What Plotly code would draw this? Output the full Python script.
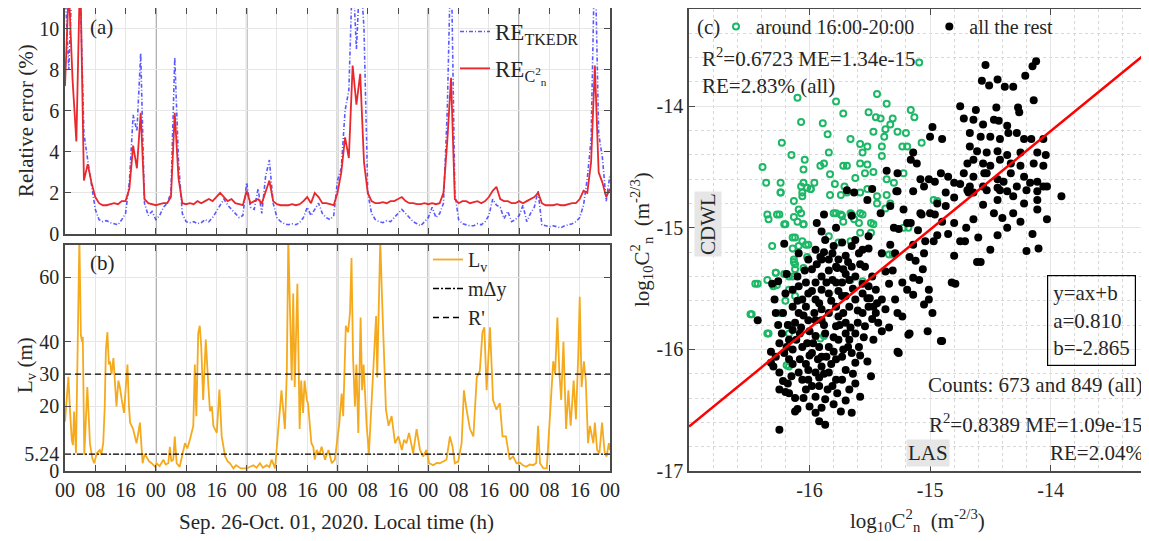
import plotly.graph_objects as go

# target picture is 1149x541; the html body has an 8px margin, so the figure is
# made 8px smaller and every pixel position is measured from the window corner
W, H = 1149, 541
OFF = 8
FW, FH = W - OFF, H - OFF

# ---------------- data ----------------
# hourly relative errors, Sep 26 00h .. Oct 02 00h (144 h)
hours = list(range(0, 145))
re_tkedr = [12, 8.0, 13, 13, 12, 4.9, 3.6, 2.4, 1.2, 0.7,
            0.6, 0.65, 0.55, 0.5, 0.45, 0.7, 1.0, 2.5, 5.8, 5.0,
            8.8, 1.5, 0.9, 1.1, 0.7, 0.9, 1.3, 1.5, 2.0, 8.6,
            3.5, 1.0, 0.6, 0.55, 0.6, 0.5, 0.55, 0.7, 0.6, 0.8,
            1.1, 1.4, 1.7, 1.4, 1.2, 1.0, 0.8, 0.9, 2.5, 1.3,
            1.2, 2.2, 1.0, 2.8, 3.6, 1.5, 0.8, 0.6, 0.5, 0.45,
            0.5, 0.45, 0.55, 0.8, 1.3, 0.9, 1.2, 1.5, 1.0, 0.8,
            0.7, 0.9, 2.6, 3.2, 6.0, 7.0, 13, 9.0, 13, 10,
            2.0, 1.0, 0.7, 0.6, 0.55, 0.65, 0.6, 0.8, 1.0, 1.2,
            1.0, 0.8, 0.6, 0.5, 0.4, 0.6, 0.8, 1.3, 0.8, 1.0,
            1.5, 6.0, 14, 2.0, 0.7, 0.5, 0.45, 0.4, 0.4, 0.5,
            0.45, 0.6, 0.9, 1.7, 1.4, 1.3, 0.75, 1.1, 0.6, 0.7,
            0.9, 1.4, 0.6, 1.0, 1.3, 2.1, 0.45, 0.4, 0.35, 0.4,
            0.35, 0.3, 0.4, 0.45, 0.5, 0.6, 0.8, 1.4, 2.7, 4.6,
            14, 4.9, 3.7, 1.6, 2.9]
re_cn2 = [7.2, 12, 7.5, 4.5, 13, 2.6, 3.4, 2.5, 1.8, 1.5,
          1.4, 1.4, 1.45, 1.5, 1.45, 1.6, 1.6, 2.2, 4.3, 3.2,
          5.9, 1.7, 1.5, 1.45, 1.4, 1.45, 1.5, 1.5, 1.8, 5.9,
          2.7, 1.5, 1.45, 1.5, 1.45, 1.6, 1.5, 1.6, 1.7, 1.6,
          1.8, 2.0, 1.8, 1.6, 1.7, 1.5, 1.45, 1.4, 2.1, 1.5,
          1.6, 1.7, 1.5, 2.0, 2.6, 1.6, 1.45, 1.4, 1.4, 1.4,
          1.45, 1.4, 1.45, 1.6, 1.8, 1.5, 2.0, 1.8, 1.5, 1.5,
          1.45, 1.4, 2.0, 3.0, 4.7, 3.7, 8.2, 6.3, 7.8, 3.5,
          2.0, 1.6, 1.5, 1.5, 1.55, 1.5, 1.6, 1.6, 1.7, 1.8,
          1.6, 1.5, 1.5, 1.45, 1.45, 1.5, 1.45, 1.5, 1.45, 1.5,
          2.0, 4.5, 7.6, 1.7, 1.5, 1.6, 1.6, 1.5, 1.55, 1.6,
          1.5, 1.6, 1.8, 2.1, 2.3, 1.7, 1.6, 1.6, 1.5, 1.5,
          1.6, 1.5, 1.6, 1.7, 1.8, 2.0, 1.5, 1.4, 1.4, 1.4,
          1.45, 1.4, 1.4, 1.45, 1.5, 1.5, 1.7, 2.1, 2.0, 3.5,
          8.2, 3.0, 2.5, 1.8, 2.2]

# L_v (m), (hour, value)
lv_points = [
    (0, 15.3), (0.5, 22), (0.9, 29.2), (1.3, 19), (1.8, 9.6), (2.1, 8), (2.4, 18.4), (2.9, 5.5),
    (3.4, 40), (3.8, 72), (4.2, 42), (4.5, 40), (4.7, 41.6), (5.1, 5), (5.9, 26), (6.6, 8.4),
    (7.2, 4), (7.7, 2.4), (8.4, 5.5), (9.2, 6.5), (9.6, 5), (10.1, 8.6), (10.5, 20), (10.8, 37.5),
    (11.2, 43), (11.6, 33), (11.9, 34), (12.3, 30), (12.8, 35), (13.2, 25), (13.6, 20), (14.1, 28),
    (14.5, 26), (15.0, 22), (15.6, 18), (16.0, 25), (16.5, 33), (16.9, 20), (17.2, 15), (18.0, 13),
    (18.5, 10), (18.9, 8.6), (19.4, 12), (19.8, 15), (20.5, 2.4), (21.0, 5), (21.5, 4.5), (22.2, 3),
    (22.9, 2.4), (23.8, 1.3), (24.2, 2.4), (25.0, 1.5), (26.0, 3.5), (26.6, 2), (27.3, 2.4), (27.7, 7.5),
    (28.1, 3), (28.6, 3.5), (29.0, 10.7), (29.5, 2.4), (30.3, 1.3), (31.0, 4.5), (31.7, 8.6), (32.3, 7),
    (33.0, 9.7), (33.9, 14), (34.3, 33), (34.7, 17), (35.2, 42.6), (35.6, 45), (36.0, 38.5), (36.5, 22),
    (37.2, 40.7), (37.8, 28), (38.3, 18.5), (38.8, 20), (39.2, 14), (40.1, 11.8), (40.8, 25.2), (41.4, 10.8),
    (42.3, 4.5), (43.0, 3), (43.6, 2.4), (44.5, 0.8), (45.2, 1.8), (45.8, 1.3), (46.5, 0.8), (47.1, 0.8),
    (48.0, 0.8), (48.9, 1.3), (49.8, 1.8), (50.6, 1.0), (51.5, 2.4), (52.3, 1.0), (53.3, 1.8), (54.0, 1.2),
    (54.6, 3.5), (55.5, 0.8), (56.3, 13), (57.2, 25), (58.1, 13), (58.6, 30), (59.0, 72), (59.4, 54),
    (59.9, 28), (60.3, 55), (60.7, 26), (61.4, 58), (62.0, 13), (62.4, 28), (62.9, 18), (63.3, 28),
    (63.9, 22), (64.2, 21), (64.7, 14), (65.1, 8.6), (65.6, 7.5), (66.0, 3.5), (66.5, 6.5), (67.2, 5),
    (67.8, 7.5), (68.7, 3.5), (69.6, 6.5), (70.5, 2.4), (71.3, 3.5), (72.0, 10.7), (72.5, 15), (73.1, 24),
    (73.5, 17), (74.2, 45), (74.8, 43), (75.3, 49), (75.7, 66), (76.1, 35.5), (76.6, 20), (77.0, 33),
    (77.5, 11.8), (78.1, 47.5), (78.5, 25), (78.9, 33), (79.7, 14), (80.3, 5.5), (81.0, 22), (81.6, 33),
    (82.2, 48), (82.5, 29), (83.1, 65), (83.3, 72), (83.7, 56), (84.3, 38), (84.8, 19), (85.5, 14),
    (86.3, 17), (87.2, 8.6), (88.1, 10.7), (89.0, 6.5), (89.6, 9.7), (90.2, 8.6), (90.9, 11.8), (92.0, 5.5),
    (92.9, 13), (93.8, 6.5), (94.6, 4.5), (95.5, 6.5), (96.2, 2.4), (97.3, 1.8), (98.2, 2.5), (99.0, 2.4),
    (100.0, 3), (100.8, 3.5), (101.7, 10.7), (102.4, 7.5), (103.0, 2.4), (103.9, 3), (104.8, 8.6), (105.4, 25),
    (106.1, 19), (107.0, 13), (107.9, 10.7), (108.8, 29), (109.6, 31), (110.3, 43), (110.8, 44.5), (111.4, 25),
    (112.3, 44.5), (113.1, 22), (114.0, 19), (114.9, 21), (115.6, 10.7), (116.5, 10.7), (117.5, 3.5), (118.4, 4.5),
    (119.3, 2.4), (120.2, 2.6), (121.0, 1.8), (121.9, 1.3), (122.8, 2.0), (123.7, 1.8), (124.5, 2.5), (125.0, 14),
    (125.5, 2.4), (126.4, 0.8), (127.3, 0.8), (128.1, 17), (129.0, 34), (129.5, 30), (130.1, 47.5), (130.6, 31),
    (131.1, 22), (131.7, 40), (132.4, 13), (133.0, 25), (133.6, 14), (134.4, 28), (135.0, 16), (135.6, 35.5),
    (136.0, 54), (136.5, 26), (137.1, 34), (137.6, 28), (138.2, 8.6), (138.7, 14), (139.6, 8.6), (140.0, 15),
    (140.6, 6.5), (141.2, 5.5), (141.9, 15), (142.6, 5.5), (143.1, 4.5), (143.7, 8.6), (144.0, 6.5)]
lv_time = [p[0] for p in lv_points]
lv_val = [p[1] for p in lv_points]

m_dy = 5.24
r_prime = 30
day_lines = [24, 48, 72, 96, 120]
x_ticks = list(range(0, 145, 8))
x_ticktext = ["00", "08", "16"] * 6 + ["00"]

# scatter (log10 Cn2): (LAS, CDWL)
green_pts = [
    (-15.09, -13.64), (-16.10, -13.93), (-15.78, -13.96), (-15.44, -13.90), (-15.36, -13.98), (-16.07, -14.13),
    (-15.89, -14.14), (-15.72, -14.06), (-15.51, -14.05), (-15.45, -14.09), (-15.41, -14.10), (-15.31, -14.10),
    (-15.16, -14.03), (-15.13, -14.09), (-15.85, -14.23), (-16.23, -14.30), (-16.15, -14.40), (-16.04, -14.44),
    (-16.05, -14.52), (-16.39, -14.50), (-16.36, -14.63), (-16.24, -14.63), (-16.24, -14.71), (-15.84, -14.38),
    (-15.66, -14.27), (-15.58, -14.31), (-15.52, -14.33), (-15.47, -14.21), (-15.37, -14.19), (-15.38, -14.25),
    (-15.33, -14.15), (-15.27, -14.21), (-15.20, -14.22), (-15.19, -14.33), (-15.23, -14.33), (-15.07, -14.30),
    (-15.56, -14.38), (-15.52, -14.48), (-15.72, -14.49), (-15.69, -14.49), (-15.58, -14.47), (-15.54, -14.55),
    (-15.47, -14.54), (-15.91, -14.49), (-15.88, -14.47), (-15.83, -14.56), (-15.79, -14.64), (-15.71, -14.66),
    (-15.62, -14.59), (-16.07, -14.66), (-16.02, -14.67), (-15.99, -14.68), (-16.06, -14.74), (-15.40, -14.41),
    (-15.40, -14.33), (-15.36, -14.60), (-15.30, -14.63), (-15.22, -14.55), (-15.44, -14.74), (-15.58, -14.71),
    (-16.05, -14.63), (-15.96, -14.63), (-16.24, -14.71), (-16.13, -14.78), (-16.06, -14.71), (-15.99, -14.68),
    (-15.83, -14.73), (-15.74, -14.73), (-15.69, -14.71), (-15.52, -14.68), (-15.36, -14.73), (-15.44, -14.80),
    (-15.33, -14.80), (-14.97, -14.77), (-15.22, -15.00), (-16.35, -14.89), (-16.34, -14.93), (-16.27, -14.89),
    (-16.21, -14.97), (-16.13, -14.91), (-16.10, -14.95), (-16.05, -14.97), (-16.07, -14.88), (-16.31, -15.15),
    (-16.14, -15.08), (-16.14, -15.17), (-16.09, -15.15), (-16.06, -15.11), (-16.01, -15.14), (-16.13, -15.26),
    (-16.12, -15.30), (-16.05, -15.33), (-16.14, -15.40), (-16.21, -15.38), (-16.28, -15.37), (-16.45, -15.46),
    (-16.35, -15.43), (-16.30, -15.48), (-16.17, -15.51), (-16.49, -15.71), (-16.35, -15.87), (-15.80, -14.88),
    (-15.74, -14.89), (-15.66, -14.88), (-15.63, -14.93), (-15.58, -14.88), (-15.49, -14.96), (-15.58, -15.04),
    (-15.76, -15.12), (-15.66, -15.11), (-15.72, -14.95), (-16.02, -15.24), (-15.66, -15.43), (-15.34, -15.22),
    (-15.91, -15.91), (-16.19, -16.13), (-16.25, -14.89), (-16.20, -14.97), (-16.09, -14.85), (-16.05, -14.97),
    (-16.12, -15.08), (-16.03, -15.14), (-16.13, -15.28), (-16.12, -15.34), (-16.17, -15.40), (-16.28, -15.37),
    (-16.43, -15.46), (-16.27, -15.47), (-16.20, -15.60), (-16.12, -15.56), (-16.48, -15.71), (-16.24, -15.70),
    (-16.17, -15.80), (-16.34, -15.87), (-16.17, -15.87), (-15.88, -15.89), (-16.17, -16.14), (-15.84, -15.07),
    (-15.78, -14.88), (-15.73, -14.90), (-15.65, -14.89), (-15.56, -14.89), (-15.59, -14.96), (-15.49, -15.04),
    (-15.47, -14.97), (-15.18, -15.00), (-15.31, -15.22), (-15.56, -15.44), (-15.37, -14.84), (-14.94, -14.78)]

black_pts = [
    (-16.25, -16.66), (-16.43, -15.76), (-16.31, -15.46), (-16.26, -15.44), (-16.19, -15.38), (-16.29, -15.59),
    (-16.21, -15.13), (-16.32, -16.02), (-16.28, -16.06), (-16.30, -16.14), (-16.25, -16.19), (-16.32, -16.11),
    (-16.25, -16.33), (-16.20, -16.35), (-16.17, -16.36), (-16.18, -16.28), (-16.12, -16.51), (-16.10, -16.49),
    (-16.00, -16.47), (-15.95, -16.52), (-15.92, -16.59), (-15.87, -16.62), (-15.74, -16.51), (-15.65, -16.52),
    (-15.58, -16.39), (-16.17, -16.08), (-16.14, -16.00), (-16.11, -15.92), (-16.08, -15.87), (-16.12, -15.78),
    (-16.06, -15.98), (-16.08, -16.08), (-16.03, -16.12), (-16.02, -15.95), (-15.98, -16.03), (-15.95, -16.19),
    (-15.90, -16.14), (-15.86, -16.06), (-15.84, -16.19), (-15.78, -16.25), (-15.70, -16.17), (-15.62, -16.11),
    (-15.81, -16.30), (-15.77, -16.36), (-15.67, -16.33), (-15.87, -16.41), (-15.95, -16.39), (-16.03, -16.33),
    (-16.06, -16.25), (-16.09, -16.19), (-15.95, -15.45), (-15.90, -15.40), (-15.84, -15.35), (-15.78, -15.45),
    (-15.72, -15.34), (-15.67, -15.43), (-15.62, -15.40), (-15.56, -15.46), (-15.76, -15.26), (-15.70, -15.23),
    (-15.90, -15.26), (-15.81, -15.21), (-15.87, -15.10), (-15.73, -15.12), (-15.65, -15.15), (-15.59, -15.21),
    (-15.54, -15.32), (-15.48, -15.40), (-15.45, -15.51), (-15.40, -15.59), (-15.34, -15.46), (-15.31, -15.35),
    (-15.23, -15.45), (-15.29, -15.21), (-15.17, -15.24), (-15.12, -15.27), (-15.06, -15.34), (-15.09, -15.43),
    (-15.01, -15.51), (-15.01, -15.59), (-14.98, -15.70), (-15.17, -15.87), (-15.23, -15.73), (-15.34, -15.82),
    (-15.40, -15.85), (-15.29, -15.59), (-15.49, -16.22), (-15.26, -16.03), (-15.02, -15.85), (-14.90, -15.93),
    (-14.79, -15.46), (-14.58, -15.28), (-14.71, -15.11), (-14.60, -15.08), (-14.94, -15.06), (-15.04, -15.11),
    (-15.16, -14.96), (-15.07, -14.89), (-14.96, -14.89), (-15.94, -14.96), (-15.88, -14.89), (-15.90, -15.03),
    (-15.78, -15.00), (-15.65, -14.90), (-15.62, -15.10), (-15.51, -15.07), (-15.40, -15.21), (-15.33, -15.14),
    (-15.26, -15.01), (-15.56, -15.18), (-16.01, -15.54), (-16.03, -15.65), (-15.95, -15.59), (-15.90, -15.67),
    (-15.84, -15.54), (-15.78, -15.65), (-15.73, -15.56), (-15.67, -15.65), (-15.62, -15.59), (-15.56, -15.70),
    (-15.51, -15.65), (-15.70, -15.78), (-15.78, -15.81), (-15.87, -15.87), (-15.95, -15.89), (-16.01, -15.76),
    (-16.09, -15.70), (-16.14, -15.65), (-16.20, -15.54), (-16.17, -15.92), (-16.23, -15.87), (-15.92, -15.98),
    (-15.84, -15.98), (-15.76, -15.92), (-15.67, -15.92), (-15.62, -15.87), (-15.65, -16.03), (-15.73, -16.06),
    (-15.78, -16.08), (-15.59, -15.98), (-15.54, -15.81), (-15.43, -15.78), (-15.45, -15.70), (-15.37, -15.67),
    (-15.98, -15.34), (-16.03, -15.45), (-16.09, -15.48), (-16.14, -15.51), (-15.81, -15.43), (-15.73, -15.45),
    (-15.65, -15.32), (-15.84, -15.26), (-15.95, -15.18), (-16.01, -15.26), (-16.09, -15.21), (-15.92, -16.30),
    (-16.01, -16.25), (-15.73, -16.25), (-15.90, -16.06), (-16.01, -16.17), (-16.25, -15.95), (-16.21, -16.03),
    (-16.14, -15.84), (-16.06, -15.59), (-15.76, -15.73), (-15.90, -15.76), (-15.84, -15.70), (-15.95, -15.76),
    (-15.70, -15.87), (-15.56, -15.54), (-15.51, -15.48), (-15.90, -15.51), (-15.78, -15.32), (-15.70, -15.56),
    (-16.22, -15.70), (-16.18, -15.80), (-16.10, -15.60), (-16.05, -15.72), (-16.00, -15.85), (-15.97, -15.95),
    (-15.93, -16.08), (-15.88, -16.20), (-15.82, -16.12), (-15.80, -15.90), (-15.75, -15.80), (-15.72, -15.70),
    (-15.68, -15.98), (-15.64, -16.20), (-15.60, -15.78), (-15.58, -16.05), (-15.55, -15.90), (-15.52, -16.10),
    (-15.50, -15.58), (-15.47, -15.92), (-16.15, -16.22), (-16.12, -16.40), (-16.05, -16.40), (-15.98, -16.30),
    (-15.90, -16.48), (-15.85, -16.33), (-15.80, -16.45), (-15.70, -16.42), (-15.62, -16.28), (-16.22, -16.26),
    (-16.28, -15.70), (-16.26, -15.80), (-16.10, -15.40), (-16.04, -15.35), (-15.98, -15.52), (-15.92, -15.62),
    (-15.86, -15.45), (-15.82, -15.60), (-15.76, -15.52), (-15.70, -15.38), (-15.64, -15.50), (-15.60, -15.68),
    (-15.58, -15.30), (-15.52, -15.58), (-15.48, -15.75), (-15.44, -15.62), (-15.94, -15.30), (-15.88, -15.20),
    (-15.80, -15.15), (-15.68, -15.28), (-16.00, -16.05), (-15.96, -15.70), (-16.07, -15.82), (-15.88, -15.80),
    (-15.80, -16.02), (-15.72, -16.00), (-15.66, -15.82), (-15.92, -16.23), (-16.14, -16.12), (-16.19, -15.98),
    (-15.30, -15.00), (-15.22, -14.85), (-15.10, -15.02), (-14.90, -14.95), (-14.85, -15.05), (-14.70, -15.00),
    (-14.40, -14.92), (-14.25, -14.95), (-14.15, -15.05), (-14.55, -14.55),
    (-14.54, -13.66), (-14.57, -13.79), (-14.51, -13.83), (-14.44, -13.78), (-14.38, -13.84), (-14.31, -13.84),
    (-14.21, -13.75), (-14.15, -13.67), (-14.12, -13.63), (-14.14, -13.95), (-14.75, -14.00), (-14.62, -14.03),
    (-14.45, -14.01), (-14.27, -14.01), (-14.26, -14.05), (-14.72, -14.10), (-14.64, -14.11), (-14.56, -14.15),
    (-14.47, -14.11), (-14.43, -14.12), (-14.36, -14.16), (-14.98, -14.17), (-15.00, -14.25), (-14.90, -14.27),
    (-14.67, -14.22), (-14.58, -14.25), (-14.50, -14.25), (-14.42, -14.27), (-14.35, -14.22), (-14.28, -14.22),
    (-14.22, -14.27), (-14.16, -14.27), (-14.06, -14.27), (-14.67, -14.33), (-14.61, -14.37), (-14.53, -14.38),
    (-14.44, -14.37), (-14.36, -14.40), (-14.25, -14.38), (-14.11, -14.38), (-14.04, -14.40), (-14.69, -14.47),
    (-14.64, -14.44), (-14.56, -14.47), (-14.50, -14.49), (-14.42, -14.44), (-14.33, -14.47), (-14.25, -14.49),
    (-14.14, -14.47), (-14.06, -14.49), (-14.72, -14.55), (-14.64, -14.58), (-14.53, -14.55), (-14.44, -14.60),
    (-14.33, -14.55), (-14.22, -14.58), (-14.11, -14.62), (-15.14, -14.38), (-15.16, -14.44), (-15.11, -14.47),
    (-15.27, -14.55), (-15.36, -14.53), (-15.08, -14.60), (-15.01, -14.60), (-14.91, -14.55), (-14.96, -14.62),
    (-14.85, -14.58), (-14.80, -14.63), (-14.75, -14.64), (-14.67, -14.66), (-14.56, -14.66), (-14.44, -14.67),
    (-14.36, -14.70), (-14.28, -14.66), (-14.20, -14.69), (-14.11, -14.70), (-14.03, -14.66), (-13.91, -14.74),
    (-15.69, -14.69), (-15.48, -14.68), (-15.28, -14.70), (-15.14, -14.70), (-15.05, -14.66), (-14.87, -14.71),
    (-14.68, -14.71), (-14.03, -14.93), (-14.10, -15.17), (-14.20, -15.19), (-14.36, -15.00), (-14.44, -15.06),
    (-14.50, -15.18), (-14.61, -15.28), (-14.75, -15.11), (-14.80, -15.23), (-14.82, -15.45), (-14.97, -15.11),
    (-15.05, -15.21), (-15.14, -15.14), (-15.14, -15.41), (-15.05, -15.63), (-15.14, -15.55), (-15.18, -15.88),
    (-14.91, -15.93), (-15.27, -16.02), (-14.69, -14.69), (-14.64, -14.71), (-14.53, -14.69), (-14.44, -14.77),
    (-14.31, -14.74), (-14.22, -14.80), (-14.11, -14.77), (-14.06, -14.66), (-14.17, -14.63), (-14.42, -14.69),
    (-14.56, -14.81), (-14.80, -14.75), (-14.87, -14.82), (-14.94, -14.80), (-15.00, -14.88), (-15.08, -14.88),
    (-15.19, -14.96), (-15.33, -14.82), (-15.41, -14.88), (-15.52, -14.77), (-15.27, -14.70), (-15.63, -14.71),
    (-15.51, -15.17), (-15.91, -15.24), (-15.77, -15.33), (-15.37, -15.36), (-15.19, -15.51), (-15.27, -15.70),
    (-15.47, -15.65), (-14.31, -14.88), (-14.47, -14.88), (-14.64, -14.93), (-14.80, -14.96), (-14.11, -14.85),
    (-14.39, -14.62)]

fit_a, fit_b = 0.810, -2.865
c_range = [-17, -13.2]

FONT = "Liberation Serif"
TXT = "#262626"
AX = "#4a4a4a"


def px(x):
    return (x - OFF) / FW


def py(y):
    return 1 - (y - OFF) / FH


fig = go.Figure()

# (a)
fig.add_trace(go.Scatter(x=hours, y=re_tkedr, mode="lines", name="RE<sub>TKEDR</sub>",
                         line=dict(color="rgba(60,60,255,0.85)", width=1.6, dash="4px,2px,1px,2px"),
                         xaxis="x", yaxis="y", legend="legend", legendgroup="a1"))
fig.add_trace(go.Scatter(x=hours, y=re_cn2, mode="lines", name="RE<sub>C<sup>2</sup><sub>n</sub></sub>",
                         line=dict(color="#e8282d", width=1.8),
                         xaxis="x", yaxis="y", legend="legend", legendgroup="a2"))

# (b)
fig.add_trace(go.Scatter(x=lv_time, y=lv_val, mode="lines", name="L<sub>v</sub>",
                         line=dict(color="#f5aa1e", width=1.8),
                         xaxis="x2", yaxis="y2", legend="legend2"))
fig.add_trace(go.Scatter(x=[0, 144], y=[m_dy, m_dy], mode="lines", name="m\u0394y",
                         line=dict(color="black", width=1.3, dash="6px,2px,2px,2px"),
                         xaxis="x2", yaxis="y2", legend="legend2"))
fig.add_trace(go.Scatter(x=[0, 144], y=[r_prime, r_prime], mode="lines", name="R'",
                         line=dict(color="black", width=1.3, dash="6px,4px"),
                         xaxis="x2", yaxis="y2", legend="legend2"))

# (c)
fig.add_trace(go.Scatter(x=[p[0] for p in green_pts], y=[p[1] for p in green_pts], mode="markers",
                         name="around 16:00-20:00\u2002",
                         marker=dict(symbol="circle-open", size=6, color="#1cb866", line=dict(width=2)),
                         xaxis="x3", yaxis="y3", legend="legend3"))
fig.add_trace(go.Scatter(x=[p[0] for p in black_pts], y=[p[1] for p in black_pts], mode="markers",
                         name="all the rest",
                         marker=dict(symbol="circle", size=8, color="black"),
                         xaxis="x3", yaxis="y3", legend="legend3"))
fig.add_trace(go.Scatter(x=c_range, y=[fit_a * v + fit_b for v in c_range], mode="lines",
                         line=dict(color="#ff0000", width=2.5), showlegend=False,
                         xaxis="x3", yaxis="y3"))

common = dict(showline=True, linecolor=AX, linewidth=1.5, mirror="ticks", ticks="inside",
              ticklen=6, tickcolor=AX, tickwidth=1.2, tickfont=dict(family=FONT, size=20, color=TXT),
              showgrid=True, gridcolor="#e6e6e6", gridwidth=1, zeroline=False, automargin=False)

xdom = [px(65), px(610)]
fig.update_layout(
    xaxis=dict(domain=xdom, range=[0, 144], tickmode="array", tickvals=x_ticks,
               showticklabels=False, anchor="y", **common),
    yaxis=dict(domain=[py(234), py(8)], range=[0, 11], tickmode="array",
               tickvals=[0, 2, 4, 6, 8, 10], anchor="x", **common),
    xaxis2=dict(domain=xdom, range=[0, 144], tickmode="array", tickvals=x_ticks,
                ticktext=x_ticktext, anchor="y2", **common),
    yaxis2=dict(domain=[py(471), py(245)], range=[0, 70], tickmode="array",
                tickvals=[0, m_dy, 20, 30, 40, 60], ticktext=["0", "5.24", "20", "30", "40", "60"],
                anchor="x2", **common),
    xaxis3=dict(domain=[px(689), px(1147)], range=c_range, tickmode="array",
                tickvals=[-16, -15, -14], ticktext=["-16", "-15", "-14"], anchor="y3",
                minor=dict(dtick=0.2, tick0=-17, showgrid=True, gridcolor="#d8d8d8", griddash="dot"),
                **common),
    yaxis3=dict(domain=[py(471), py(9)], range=c_range, tickmode="array",
                tickvals=[-17, -16, -15, -14], ticktext=["-17", "-16", "-15", "-14"], anchor="x3",
                minor=dict(dtick=0.2, tick0=-17, showgrid=True, gridcolor="#d8d8d8", griddash="dot"),
                **common),
    legend=dict(x=px(455), y=py(10), xanchor="left", yanchor="top", bgcolor="rgba(0,0,0,0)",
                font=dict(family=FONT, size=23, color=TXT), itemwidth=30, tracegroupgap=4),
    legend2=dict(x=px(428), y=py(240), xanchor="left", yanchor="top", bgcolor="rgba(0,0,0,0)",
                 font=dict(family=FONT, size=20, color=TXT), itemwidth=30),
    legend3=dict(x=px(716), y=py(7), xanchor="left", yanchor="top", orientation="h",
                 bgcolor="rgba(0,0,0,0)", font=dict(family=FONT, size=20, color=TXT), itemwidth=30),
    width=FW, height=FH,
    margin=dict(l=0, r=0, t=0, b=0, autoexpand=False),
    paper_bgcolor="white", plot_bgcolor="white",
    font=dict(family=FONT, size=20, color=TXT),
)

# day boundaries in (a) and (b)
for d in day_lines:
    for xr, yr in (("x", "y"), ("x2", "y2")):
        fig.add_shape(type="line", xref=xr, yref=yr + " domain", x0=d, x1=d, y0=0, y1=1,
                      line=dict(color="#858585", width=1.6), layer="below")

ann = [
    dict(x=px(88), y=py(27), text="(a)", xanchor="left"),
    dict(x=px(88), y=py(263), text="(b)", xanchor="left"),
    dict(x=px(695), y=py(27), text="(c)", xanchor="left"),
    dict(x=px(26), y=py(121), text="Relative error (%)", textangle=-90),
    dict(x=px(26), y=py(365), text="L<sub>v</sub> (m)", textangle=-90),
    dict(x=px(336), y=py(522), text="Sep. 26-Oct. 01, 2020. Local time (h)"),
    dict(x=px(918), y=py(520), text="log<sub>10</sub>C<sup>2</sup><sub>n</sub>  (m<sup>-2/3</sup>)"),
    dict(x=px(641), y=py(240), text="log<sub>10</sub>C<sup>2</sup><sub>n</sub>  (m<sup>-2/3</sup>)",
         textangle=-90),
    dict(x=px(700), y=py(58), text="R<sup>2</sup>=0.6723 ME=1.34e-15", xanchor="left"),
    dict(x=px(700), y=py(86), text="RE=2.83% (all)", xanchor="left"),
    dict(x=px(708), y=py(224), text="CDWL", textangle=-90, bgcolor="#e6e6e6"),
    dict(x=px(1047), y=py(320), text="y=ax+b<br>a=0.810<br>b=-2.865", xanchor="left", align="left",
         bordercolor="black", borderwidth=1.2, borderpad=5),
    dict(x=px(1145), y=py(385), text="Counts: 673 and 849 (all)", xanchor="right"),
    dict(x=px(1145), y=py(423), text="R<sup>2</sup>=0.8389 ME=1.09e-15", xanchor="right"),
    dict(x=px(928), y=py(453), text="LAS", bgcolor="#e6e6e6"),
    dict(x=px(1145), y=py(453), text="RE=2.04%", xanchor="right"),
]
for a in ann:
    a.setdefault("xanchor", "center")
    fig.add_annotation(xref="paper", yref="paper", yanchor="middle", showarrow=False,
                       font=dict(family=FONT, size=21, color=TXT), **a)

fig.write_html("out.html")
